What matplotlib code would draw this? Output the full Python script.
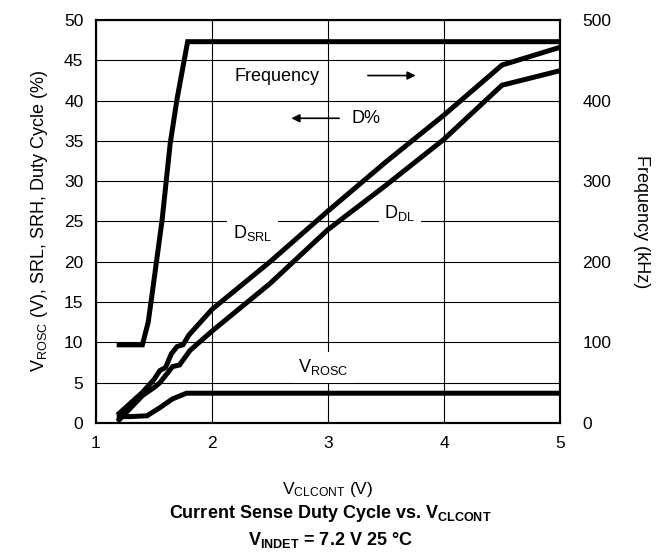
import matplotlib.pyplot as plt

plt.rcParams['font.family'] = ['Liberation Sans', 'DejaVu Sans']
plt.rcParams['mathtext.default'] = 'regular'

# V_CLCONT (V) vs. curves
freq_x = [1.2, 1.4, 1.45, 1.48, 1.57, 1.64, 1.70, 1.79, 5.0]
freq_khz = [97, 97, 125, 156, 252, 347, 403, 473, 473]

vrosc_x = [1.2, 1.3, 1.44, 1.55, 1.66, 1.78, 5.0]
vrosc_v = [0.8, 0.8, 0.9, 1.9, 3.0, 3.7, 3.7]

dsrl_x = [1.2, 1.4, 1.5, 1.55, 1.6, 1.65, 1.7, 1.75, 1.8, 2.0, 2.5, 3.0, 3.5, 4.0, 4.5, 5.0]
dsrl_y = [1.2, 3.8, 5.4, 6.5, 6.9, 8.6, 9.5, 9.7, 10.9, 14.1, 20.0, 26.3, 32.4, 38.2, 44.4, 46.6]

ddl_x = [1.2, 1.4, 1.5, 1.55, 1.6, 1.66, 1.72, 1.77, 1.81, 2.0, 2.5, 3.0, 3.5, 4.0, 4.5, 5.0]
ddl_y = [0.4, 3.4, 4.4, 5.0, 5.9, 7.0, 7.2, 8.2, 9.0, 11.4, 17.3, 24.0, 29.5, 35.2, 41.9, 43.7]

fig = plt.figure(figsize=(6.68, 5.53), dpi=100)
ax = fig.add_axes([0.1437, 0.235, 0.6946, 0.729])
ax2 = ax.twinx()

lw = 3.6
ax.plot(dsrl_x, dsrl_y, color='black', lw=lw, solid_joinstyle='miter', zorder=3)
ax.plot(ddl_x, ddl_y, color='black', lw=lw, solid_joinstyle='miter', zorder=3)
ax.plot(vrosc_x, vrosc_v, color='black', lw=lw, solid_joinstyle='miter', zorder=3)
ax2.plot(freq_x, freq_khz, color='black', lw=lw, solid_joinstyle='miter', zorder=3)

ax.set_xlim(1, 5)
ax.set_ylim(0, 50)
ax2.set_ylim(0, 500)
ax.set_xticks([1, 2, 3, 4, 5])
ax.set_yticks(range(0, 51, 5))
ax2.set_yticks(range(0, 501, 100))
ax.grid(True, color='black', lw=0.8)
ax.set_axisbelow(True)
ax.tick_params(axis='y', length=0, labelsize=12.5, pad=9)
ax.tick_params(axis='x', length=0, labelsize=12.5, pad=9)
ax2.tick_params(length=0, labelsize=12.5, pad=16)
for a in (ax, ax2):
    for s in a.spines.values():
        s.set_linewidth(1.5)

ax.set_ylabel('V$_{ROSC}$ (V), SRL, SRH, Duty Cycle (%)', fontsize=13, labelpad=10)
ax2.set_ylabel('Frequency (kHz)', fontsize=13, rotation=-90, va='center')
ax2.yaxis.set_label_coords(1.175, 0.5)
ax.set_xlabel('V$_{CLCONT}$ (V)', fontsize=12.5, va='center')
ax.xaxis.set_label_coords(0.5, -0.165)
fig.text(0.494, 0.071, 'Current Sense Duty Cycle vs. V$_{CLCONT}$',
         ha='center', va='center', fontsize=13, fontweight='bold')
fig.text(0.494, 0.024, 'V$_{INDET}$ = 7.2 V 25 °C',
         ha='center', va='center', fontsize=13, fontweight='bold')

box = dict(facecolor='white', edgecolor='none', pad=4)
ax.text(2.56, 43.0, 'Frequency', ha='center', va='center', fontsize=13, bbox=box, zorder=4)
ax.annotate('', xy=(3.78, 43.1), xytext=(3.32, 43.1),
            arrowprops=dict(arrowstyle='-|>', color='black', lw=1.2, mutation_scale=12), zorder=4)
ax.text(3.2, 37.8, 'D%', ha='left', va='center', fontsize=13, bbox=box, zorder=4)
ax.annotate('', xy=(2.66, 37.8), xytext=(3.12, 37.8),
            arrowprops=dict(arrowstyle='-|>', color='black', lw=1.2, mutation_scale=12), zorder=4)
ax.text(2.35, 23.6, 'D$_{SRL}$', ha='center', va='center', fontsize=13, bbox=box, zorder=2)
ax.text(3.62, 26.0, 'D$_{DL}$', ha='center', va='center', fontsize=13, bbox=box, zorder=2)
ax.text(2.96, 6.9, 'V$_{ROSC}$', ha='center', va='center', fontsize=13, bbox=box, zorder=2)

fig.savefig('out.png', dpi=100)
